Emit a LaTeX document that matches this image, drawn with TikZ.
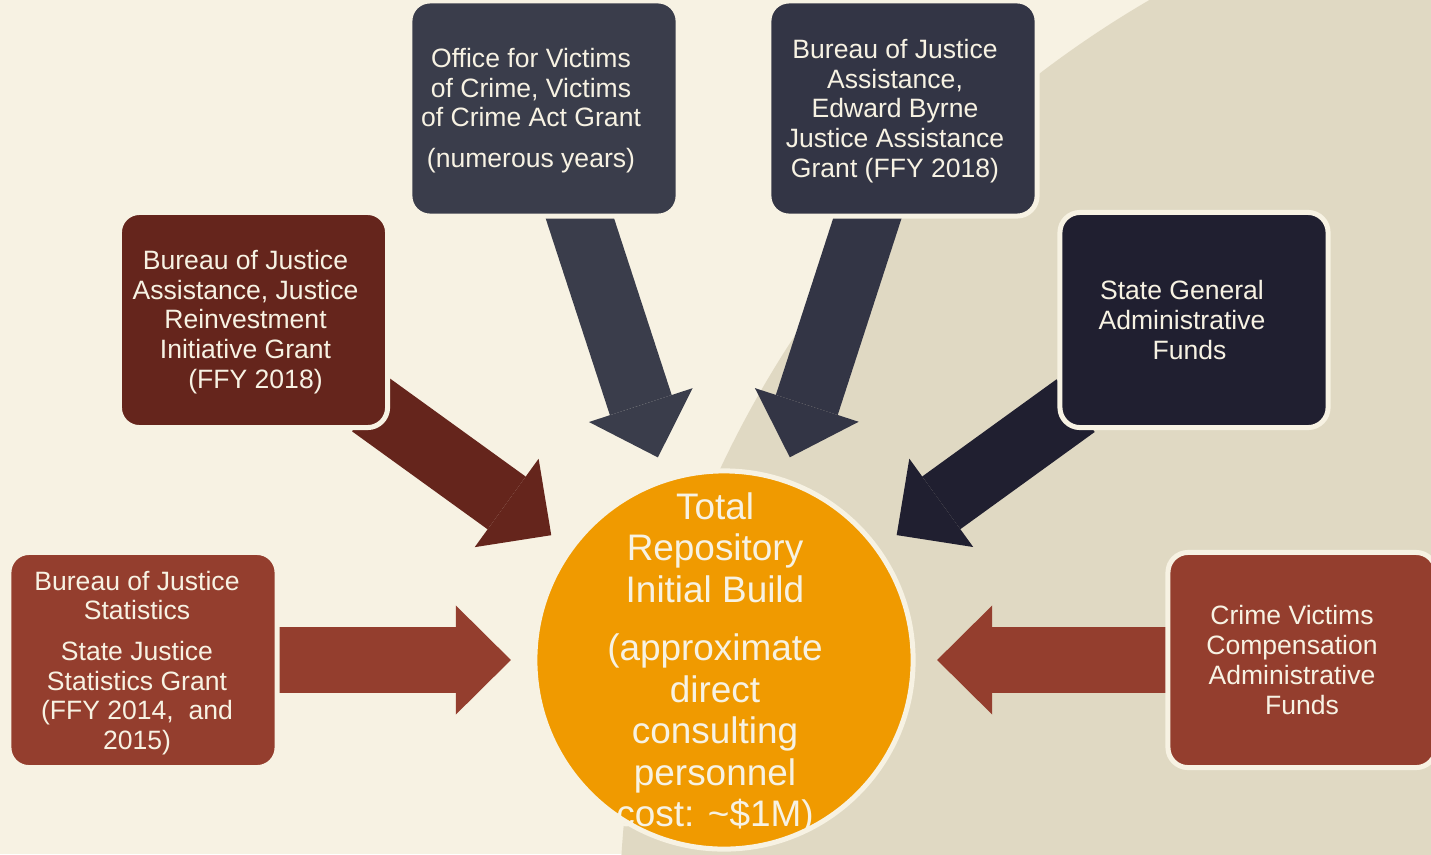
\documentclass[tikz,border=0pt]{standalone}
\usepackage{fontspec}
\setmainfont{Liberation Sans}
\usetikzlibrary{arrows.meta}
\definecolor{cream}{HTML}{F7F2E3}
\definecolor{sand}{HTML}{E0D9C3}
\definecolor{slate}{HTML}{3A3D4B}
\definecolor{darkslate}{HTML}{333545}
\definecolor{navy}{HTML}{201F30}
\definecolor{maroon}{HTML}{65251C}
\definecolor{rust}{HTML}{943E2E}
\definecolor{amber}{HTML}{F09A00}
\pgfdeclarelayer{back}
\pgfsetlayers{back,main}

\begin{document}
\begin{tikzpicture}[x=0.01cm,y=-0.01cm,
    fund box/.style={rectangle,rounded corners=0.2cm,draw=cream,line width=0.05cm,minimum width=2.68cm,minimum height=2.15cm},
    fund text/.style={text=cream,align=center,font=\fontsize{7.55}{8.45}\selectfont},
    total node/.style={circle,fill=amber,draw=cream,line width=0.05cm,minimum size=3.78cm},
    block arrow/.style={line width=0.65cm,-{Triangle[length=0.55cm,width=1.09cm,line width=0pt]},shorten >=2.13cm}]

            \useasboundingbox (0,0) rectangle (1431,854);

            \node[fund box, fill=rust] (bjs) at (143,660) {};
            \node[fund box, fill=maroon] (jri) at (253.5,320) {};
            \node[fund box, fill=slate] (ovc) at (544,108.5) {};
            \node[fund box, fill=darkslate] (byrne) at (903,108.5) {};
            \node[fund box, fill=navy] (state) at (1194,320) {};
            \node[fund box, fill=rust] (cvc) at (1302,660) {};
            \node[total node] (total) at (724,660) {};

            \node[fund text] (bjs text) at ([xshift=-0.06cm,yshift=-0.03cm]bjs.center) {Bureau of Justice\\Statistics\\[0.11cm]State Justice\\Statistics Grant\\(FFY 2014,\ \ and\\2015)};
            \node[fund text] (jri text) at ([xshift=-0.08cm,yshift=-0.02cm]jri.center) {Bureau of Justice\\Assistance, Justice\\Reinvestment\\Initiative Grant\\\hspace*{0.2cm}(FFY 2018)};
            \node[fund text] (ovc text) at ([xshift=-0.13cm,yshift=-0.02cm]ovc.center) {Office for Victims\\of Crime, Victims\\of Crime Act Grant\\[0.11cm](numerous years)};
            \node[fund text] (byrne text) at ([xshift=-0.08cm,yshift=-0.025cm]byrne.center) {Bureau of Justice\\Assistance,\\Edward Byrne\\Justice Assistance\\Grant (FFY 2018)};
            \node[fund text] (state text) at ([xshift=-0.12cm]state.center) {State General\\Administrative\\\hspace*{0.15cm}Funds};
            \node[fund text] (cvc text) at ([xshift=-0.1cm]cvc.center) {Crime Victims\\Compensation\\Administrative\\\hspace*{0.2cm}Funds};
            \node[text=cream, align=center, font=\fontsize{10.5}{11.8}\selectfont] (total text) at ([xshift=-0.09cm,yshift=-0.035cm]total.center) {Total\\Repository\\Initial Build\\[0.17cm](approximate\\direct\\consulting\\personnel\\cost: \textasciitilde\$1M)};

            \begin{pgfonlayer}{back}
                \fill[cream] (0,0) rectangle (1431,854);
                \begin{scope}
                    \clip (0,0) rectangle (1431,854);
                    \fill[sand] (1686,922) circle (10.66cm);
                \end{scope}

                \draw[block arrow, rust, shorten <=1.35cm] (bjs.center) -- (total.center);
                \draw[block arrow, maroon, shorten <=1.45cm] (jri.center) -- (total.center);
                \draw[block arrow, slate, shorten <=1cm] (ovc.center) -- (total.center);
                \draw[block arrow, darkslate, shorten <=1cm] (byrne.center) -- (total.center);
                \draw[block arrow, navy, shorten <=1.46cm] (state.center) -- (total.center);
                \draw[block arrow, rust, shorten <=1.2cm] (cvc.center) -- (total.center);
            \end{pgfonlayer}
            ;
        \end{tikzpicture}
\end{document}
